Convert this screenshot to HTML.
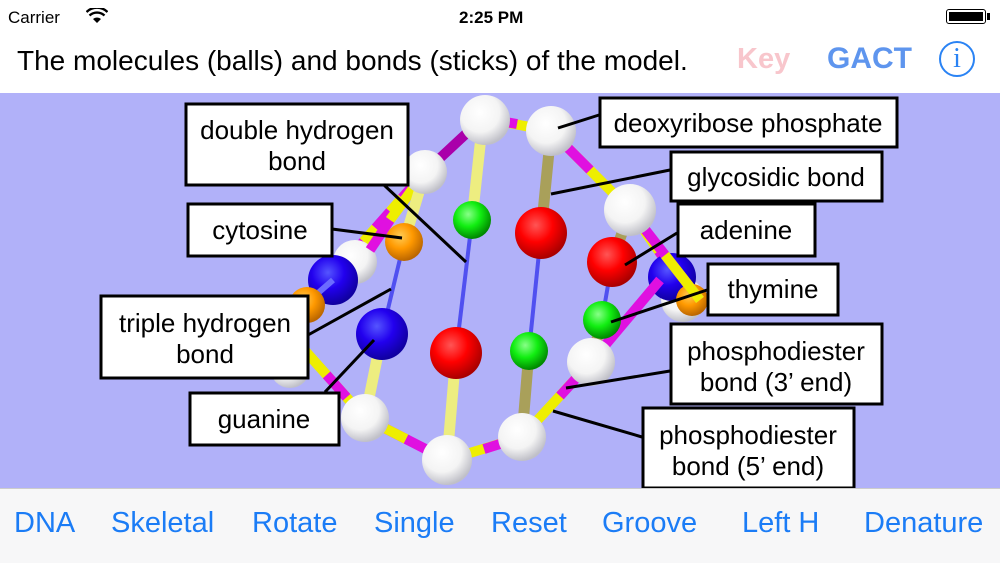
<!DOCTYPE html>
<html><head><meta charset="utf-8"><style>
body{margin:0;width:1000px;height:563px;overflow:hidden;background:#fff;font-family:"Liberation Sans",sans-serif;position:relative}
.t{position:absolute;white-space:nowrap}
</style></head><body>
<div class="t" style="left:8px;top:8px;font-size:17px">Carrier</div>
<svg style="position:absolute;left:86px;top:8px" width="22" height="16" viewBox="0 0 22 16"><path d="M11 15 L7 11 A6 6 0 0 1 15 11Z" fill="#000"/><path d="M3.5 7.5 A11 11 0 0 1 18.5 7.5" stroke="#000" stroke-width="2.4" fill="none"/><path d="M0.5 4 A15 15 0 0 1 21.5 4" stroke="#000" stroke-width="2.4" fill="none"/></svg>
<div class="t" style="left:459px;top:8px;font-size:17px;font-weight:bold">2:25 PM</div>
<div style="position:absolute;left:946px;top:9px;width:40px;height:15px;border:1.5px solid #000;border-radius:3px;box-sizing:border-box;padding:2px"><div style="background:#000;width:100%;height:100%"></div></div>
<div style="position:absolute;left:987px;top:13px;width:3px;height:7px;background:#000"></div>
<div class="t" style="left:17px;top:45px;font-size:28px">The molecules (balls) and bonds (sticks) of the model.</div>
<div class="t" style="left:737px;top:43px;font-size:29px;color:#f8c6cc;font-weight:bold">Key</div>
<div class="t" style="left:827px;top:42px;font-size:30px;color:#5e95ee;font-weight:bold">GACT</div>
<div style="position:absolute;left:939px;top:41px;width:36px;height:36px;border:2px solid #2a83f4;border-radius:50%;box-sizing:border-box;color:#2a83f4;font-family:'Liberation Serif',serif;font-size:28px;text-align:center;line-height:32px">i</div>
<svg style="position:absolute;left:0;top:93px" width="1000" height="395" viewBox="0 93 1000 395" font-family="Liberation Sans, sans-serif">
<defs>
<radialGradient id="w" cx="40%" cy="35%" r="65%"><stop offset="0" stop-color="#fff"/><stop offset=".6" stop-color="#f4f4f4"/><stop offset="1" stop-color="#c0c0c8"/></radialGradient>
<radialGradient id="g" cx="40%" cy="35%" r="65%"><stop offset="0" stop-color="#8f8"/><stop offset=".5" stop-color="#1e1"/><stop offset="1" stop-color="#080"/></radialGradient>
<radialGradient id="r" cx="40%" cy="35%" r="65%"><stop offset="0" stop-color="#f55"/><stop offset=".5" stop-color="#f00"/><stop offset="1" stop-color="#a00"/></radialGradient>
<radialGradient id="b" cx="40%" cy="35%" r="65%"><stop offset="0" stop-color="#55f"/><stop offset=".5" stop-color="#2200ee"/><stop offset="1" stop-color="#1000a0"/></radialGradient>
<radialGradient id="o" cx="40%" cy="35%" r="65%"><stop offset="0" stop-color="#fc5"/><stop offset=".5" stop-color="#f90"/><stop offset="1" stop-color="#b60"/></radialGradient>
</defs>
<rect x="0" y="93" width="1000" height="395" fill="#b1b1f9"/>
<g stroke-width="10" fill="none">
<line x1="349" y1="258" x2="425" y2="172" stroke="#e010e0" stroke-dasharray="22 18"/>
<line x1="349" y1="258" x2="425" y2="172" stroke="#ee0" stroke-dasharray="0 22 18 0"/>
<line x1="425" y1="172" x2="483" y2="118" stroke="#a0a"/>
<line x1="630" y1="210" x2="700" y2="310" stroke="#ee0"/>
<line x1="630" y1="210" x2="700" y2="310" stroke="#e010e0" stroke-dasharray="25 25"/>
<line x1="300" y1="345" x2="365" y2="418" stroke="#ee0"/>
<line x1="300" y1="345" x2="365" y2="418" stroke="#e010e0" stroke-dasharray="0 40 30 0"/>
</g>
<circle cx="355" cy="262" r="22" fill="url(#w)"/>
<circle cx="683" cy="300" r="22" fill="url(#w)"/>
<circle cx="290" cy="368" r="20" fill="url(#w)"/>
<circle cx="333" cy="280" r="25" fill="url(#b)"/>
<line x1="333" y1="280" x2="310" y2="300" stroke="#6b6bff" stroke-width="6"/>
<circle cx="307" cy="305" r="18" fill="url(#o)"/>
<circle cx="672" cy="277" r="24" fill="url(#b)"/>
<circle cx="692" cy="300" r="16" fill="url(#o)"/>
<g stroke-width="10">
<line x1="483" y1="118" x2="551" y2="131" stroke="#ee0"/>
<line x1="483" y1="118" x2="517" y2="124" stroke="#e010e0"/>
<line x1="551" y1="131" x2="630" y2="210" stroke="#ee0"/>
<line x1="551" y1="131" x2="590" y2="170" stroke="#e010e0"/>
<line x1="630" y1="210" x2="700" y2="300" stroke="#e010e0"/>
<line x1="665" y1="255" x2="700" y2="300" stroke="#ee0"/>
<line x1="660" y1="280" x2="591" y2="362" stroke="#e010e0"/>
<line x1="591" y1="362" x2="522" y2="437" stroke="#ee0"/>
<line x1="591" y1="362" x2="560" y2="396" stroke="#e010e0"/>
<line x1="522" y1="437" x2="447" y2="460" stroke="#ee0"/>
<line x1="522" y1="437" x2="484" y2="449" stroke="#e010e0"/>
<line x1="447" y1="460" x2="365" y2="418" stroke="#e010e0"/>
<line x1="406" y1="439" x2="365" y2="418" stroke="#ee0"/>
<line x1="425" y1="172" x2="390" y2="220" stroke="#ee0"/>
<line x1="390" y1="220" x2="370" y2="250" stroke="#e010e0"/>
</g>
<g stroke-width="11" stroke-linecap="round">
<line x1="483" y1="118" x2="472" y2="220" stroke="#eded80"/>
<line x1="456" y1="353" x2="447" y2="460" stroke="#eded80"/>
<line x1="551" y1="131" x2="541" y2="233" stroke="#a9a05a"/>
<line x1="529" y1="351" x2="522" y2="437" stroke="#a9a05a"/>
<line x1="425" y1="172" x2="404" y2="242" stroke="#eded80"/>
<line x1="382" y1="334" x2="365" y2="418" stroke="#eded80"/>
<line x1="612" y1="262" x2="630" y2="210" stroke="#a9a05a"/>
<line x1="602" y1="320" x2="591" y2="362" stroke="#a9a05a"/>
</g>
<g stroke-width="4" stroke="#5050f0">
<line x1="404" y1="242" x2="382" y2="334"/>
<line x1="472" y1="220" x2="456" y2="353"/>
<line x1="541" y1="233" x2="529" y2="351"/>
<line x1="612" y1="262" x2="602" y2="320"/>
</g>
<circle cx="425" cy="172" r="22" fill="url(#w)"/>
<circle cx="485" cy="120" r="25" fill="url(#w)"/>
<circle cx="551" cy="131" r="25" fill="url(#w)"/>
<circle cx="630" cy="210" r="26" fill="url(#w)"/>
<circle cx="591" cy="362" r="24" fill="url(#w)"/>
<circle cx="365" cy="418" r="24" fill="url(#w)"/>
<circle cx="447" cy="460" r="25" fill="url(#w)"/>
<circle cx="522" cy="437" r="24" fill="url(#w)"/>
<circle cx="404" cy="242" r="19" fill="url(#o)"/>
<circle cx="382" cy="334" r="26" fill="url(#b)"/>
<circle cx="472" cy="220" r="19" fill="url(#g)"/>
<circle cx="529" cy="351" r="19" fill="url(#g)"/>
<circle cx="602" cy="320" r="19" fill="url(#g)"/>
<circle cx="541" cy="233" r="26" fill="url(#r)"/>
<circle cx="456" cy="353" r="26" fill="url(#r)"/>
<circle cx="612" cy="262" r="25" fill="url(#r)"/>
<g stroke="#000" stroke-width="3">
<line x1="384" y1="185" x2="466" y2="262"/>
<line x1="599" y1="115" x2="558" y2="128"/>
<line x1="670" y1="170" x2="551" y2="194"/>
<line x1="332" y1="229" x2="402" y2="238"/>
<line x1="677" y1="233" x2="625" y2="265"/>
<line x1="707" y1="290" x2="611" y2="322"/>
<line x1="308" y1="335" x2="391" y2="289"/>
<line x1="325" y1="392" x2="374" y2="340"/>
<line x1="670" y1="371" x2="566" y2="388"/>
<line x1="642" y1="437" x2="553" y2="411"/>
</g>
<g fill="#fff" stroke="#000" stroke-width="3">
<rect x="186" y="104" width="222" height="81"/>
<rect x="600" y="98" width="297" height="49"/>
<rect x="671" y="152" width="211" height="49"/>
<rect x="188" y="204" width="144" height="52"/>
<rect x="678" y="204" width="137" height="52"/>
<rect x="708" y="264" width="130" height="51"/>
<rect x="101" y="296" width="207" height="82"/>
<rect x="671" y="324" width="211" height="80"/>
<rect x="190" y="393" width="149" height="52"/>
<rect x="643" y="408" width="211" height="80"/>
</g>
<g font-size="26" text-anchor="middle" fill="#000">
<text x="297" y="139">double hydrogen</text><text x="297" y="170">bond</text>
<text x="748" y="132">deoxyribose phosphate</text>
<text x="776" y="186">glycosidic bond</text>
<text x="260" y="239">cytosine</text>
<text x="746" y="239">adenine</text>
<text x="773" y="298">thymine</text>
<text x="205" y="332">triple hydrogen</text><text x="205" y="363">bond</text>
<text x="776" y="360">phosphodiester</text><text x="776" y="391">bond (3’ end)</text>
<text x="264" y="428">guanine</text>
<text x="748" y="444">phosphodiester</text><text x="748" y="475">bond (5’ end)</text>
</g>
</svg>
<div style="position:absolute;left:0;top:488px;width:1000px;height:75px;background:#f7f7f8;border-top:1px solid #ccc;box-sizing:border-box"></div>
<div style="position:absolute;top:507px;left:0;width:1000px;font-size:29px;color:#1b7cf6">
<span class="t" style="left:14px">DNA</span><span class="t" style="left:111px">Skeletal</span><span class="t" style="left:252px">Rotate</span><span class="t" style="left:374px">Single</span><span class="t" style="left:491px">Reset</span><span class="t" style="left:602px">Groove</span><span class="t" style="left:742px">Left H</span><span class="t" style="left:864px">Denature</span>
</div>
</body></html>
